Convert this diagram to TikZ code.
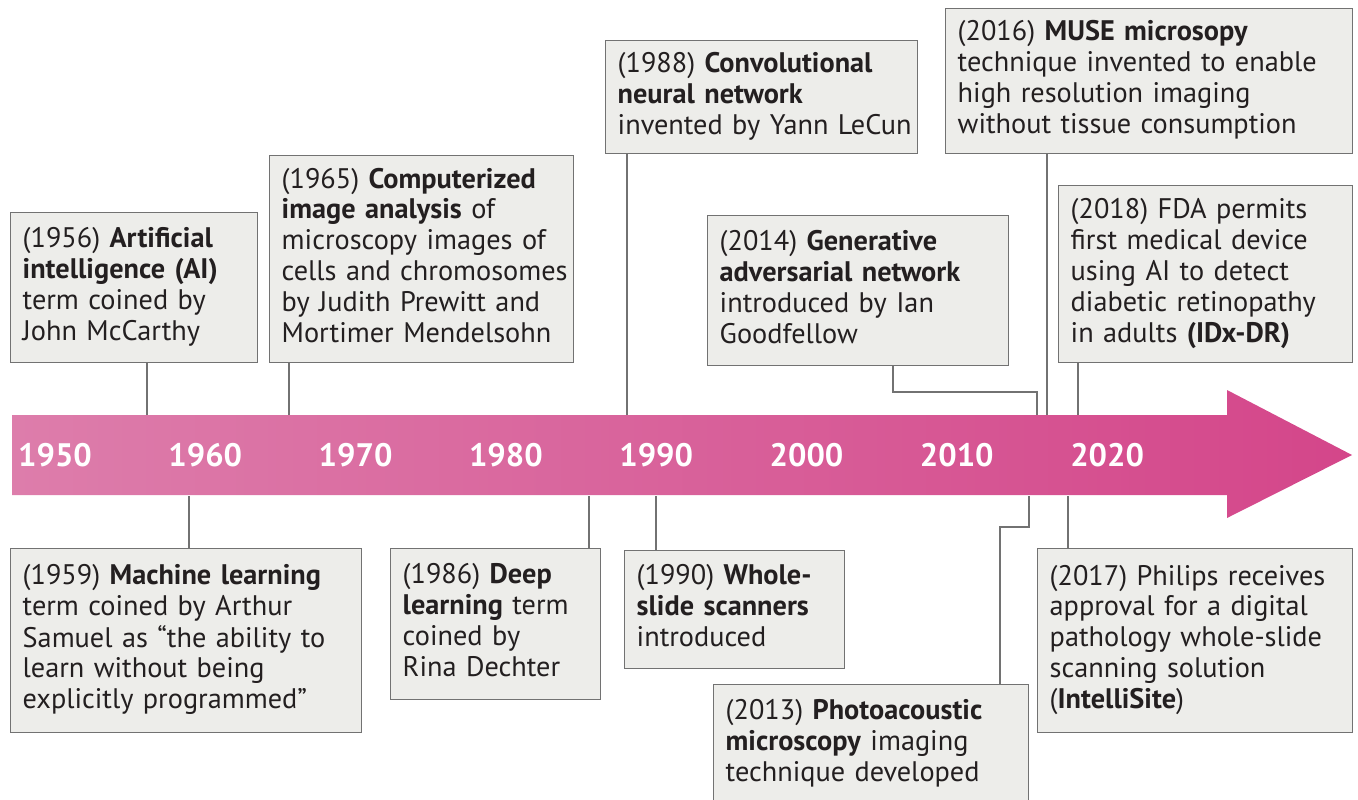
\documentclass[tikz,border=0pt]{standalone}
\usepackage{fontspec}
\setmainfont{PT Sans}
\usepackage{tikz}
\usetikzlibrary{calc}
\definecolor{BoxFill}{HTML}{EDEDEA}
\definecolor{BoxLine}{HTML}{727272}
\definecolor{TextDark}{HTML}{231F20}
\definecolor{PinkLeft}{HTML}{DD7DAB}
\definecolor{PinkRight}{HTML}{D4468A}
\newcommand{\evtext}[1]{\begin{tabular}{@{}l@{}}#1\end{tabular}}
\tikzstyle{event} = [rectangle,
anchor=north west,
draw=BoxLine,
fill=BoxFill,
line width=0.8pt,
inner xsep=0.24cm,
inner ysep=0pt,
align=left,
text=TextDark,
font=\fontsize{16.1}{17.6}\selectfont]
\tikzstyle{link} = [draw=BoxLine, line width=0.8pt]
\tikzstyle{yearlbl} = [text=white, font=\fontsize{18.5}{20}\selectfont\bfseries]

\begin{document}
\begin{tikzpicture}[x=0.02cm,y=-0.02cm]
    \useasboundingbox (0,0) rectangle (1358,800);

    % timeline arrow
    \shade[left color=PinkLeft, right color=PinkRight]
        (12,415) -- (1227,415) -- (1227,390) -- (1352,455) -- (1227,518) -- (1227,495) -- (12,495) -- cycle;
    \node[inner sep=0, minimum width=24.3cm, minimum height=1.6cm, anchor=north west] (shaft) at (12,415) {};
    \foreach \yr [count=\i from 0] in {1950,1960,1970,1980,1990,2000,2010,2020}
        \node[yearlbl] (y\yr) at (55+150.3*\i,455) {\yr};

    % boxes above
    \node[event, text width=4.46cm, minimum height=3.0cm] (A56) at (10,212)
        {\evtext{(1956) \textbf{Artificial}\\\textbf{intelligence (AI)}\\term coined by\\John McCarthy}};
    \node[event, text width=5.6cm, minimum height=4.14cm] (B65) at (269,155)
        {\evtext{(1965) \textbf{Computerized}\\\textbf{image analysis} of\\microscopy images of\\cells and chromosomes\\by Judith Prewitt and\\Mortimer Mendelsohn}};
    \node[event, text width=5.76cm, minimum height=2.26cm] (C88) at (605,40)
        {\evtext{(1988) \textbf{Convolutional}\\\textbf{neural network}\\invented by Yann LeCun}};
    \node[event, text width=7.66cm, minimum height=2.9cm] (D16) at (945,8)
        {\evtext{(2016) \textbf{MUSE microsopy}\\technique invented to enable\\high resolution imaging\\without tissue consumption}};
    \node[event, text width=5.54cm, minimum height=3.0cm] (E14) at (707,215)
        {\evtext{(2014) \textbf{Generative}\\\textbf{adversarial network}\\introduced by Ian\\Goodfellow}};
    \node[event, text width=5.4cm, minimum height=3.54cm] (F18) at (1058,185)
        {\evtext{(2018) FDA permits\\first medical device\\using AI to detect\\diabetic retinopathy\\in adults \textbf{(IDx-DR)}}};

    % boxes below
    \node[event, text width=6.54cm, minimum height=3.68cm] (G59) at (10,548)
        {\evtext{(1959) \textbf{Machine learning}\\term coined by Arthur\\Samuel as “the ability to\\learn without being\\explicitly programmed”}};
    \node[event, text width=3.72cm, minimum height=3.02cm] (H86) at (390,548)
        {\evtext{(1986) \textbf{Deep}\\\textbf{learning} term\\coined by\\Rina Dechter}};
    \node[event, text width=3.92cm, minimum height=2.36cm] (I90) at (624,550)
        {\evtext{(1990) \textbf{Whole-}\\\textbf{slide scanners}\\introduced}};
    \node[event, text width=5.82cm, minimum height=2.4cm] (J13) at (713,684)
        {\evtext{(2013) \textbf{Photoacoustic}\\\textbf{microscopy} imaging\\technique developed}};
    \node[event, text width=5.82cm, minimum height=3.68cm] (K17) at (1037,548)
        {\evtext{(2017) Philips receives\\approval for a digital\\pathology whole-slide\\scanning solution\\(\textbf{IntelliSite})}};

    % connectors
    \draw[link] (147,0 |- A56.south) -- (147,0 |- shaft.north);
    \draw[link] (289,0 |- B65.south) -- (289,0 |- shaft.north);
    \draw[link] (627,0 |- C88.south) -- (627,0 |- shaft.north);
    \draw[link] (1047,0 |- D16.south) -- (1047,0 |- shaft.north);
    \draw[link] (893,0 |- E14.south) -- (893,392) -| (1037,0 |- shaft.north);
    \draw[link] (1078,0 |- F18.south) -- (1078,0 |- shaft.north);
    \draw[link] (189,0 |- G59.north) -- (189,0 |- shaft.south);
    \draw[link] (589,0 |- H86.north) -- (589,0 |- shaft.south);
    \draw[link] (656,0 |- I90.north) -- (656,0 |- shaft.south);
    \draw[link] (1000,0 |- J13.north) -- (1000,527) -| (1029,0 |- shaft.south);
    \draw[link] (1068,0 |- K17.north) -- (1068,0 |- shaft.south);
\end{tikzpicture}
\end{document}
